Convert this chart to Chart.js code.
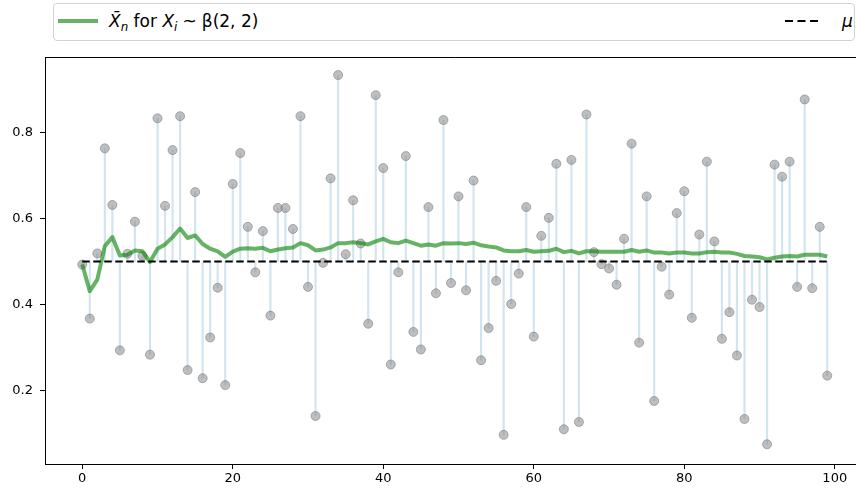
<!DOCTYPE html>
<html>
<head>
<meta charset="utf-8">
<script src="https://cdn.jsdelivr.net/npm/chart.js@4/dist/chart.umd.min.js"></script>
<style>
html, body { margin:0; padding:0; overflow:hidden; background:#fff; width:856px; height:493px; }
#wrap { position:relative; width:870px; height:493px; }
#c { position:absolute; left:0; top:0; }
#legend { position:absolute; left:53px; top:3px; width:802px; height:38px; box-sizing:border-box;
  border:1px solid #d2d2d2; border-radius:4px; background:#fff;
  font-family:"DejaVu Sans", sans-serif; font-size:17px; color:#000; }
.lt { position:absolute; top:7px; line-height:20px; white-space:nowrap; }
.sub { font-size:70%; position:relative; top:0.3em; }
.sp { display:inline-block; width:0.3em; }
</style>
</head>
<body>
<div id="wrap">
<canvas id="c" width="870" height="493" style="width:870px;height:493px"></canvas>
<div id="legend">
  <div style="position:absolute;left:4px;top:15px;width:40px;height:4px;background:rgba(0,128,0,0.6)"></div>
  <div class="lt" style="left:55px"><i>X&#772;</i><i class="sub">n</i> for <i>X</i><i class="sub">i</i><span class="sp"></span>~<span class="sp"></span>β(2, 2)</div>
  <svg style="position:absolute;left:731px;top:15px" width="34" height="4"><line x1="0" y1="2" x2="33" y2="2" stroke="#000" stroke-width="2" stroke-dasharray="8 4.5"/></svg>
  <div class="lt" style="left:788px"><i>μ</i></div>
</div>
</div>
<script>
const xs = [0,1,2,3,4,5,6,7,8,9,10,11,12,13,14,15,16,17,18,19,20,21,22,23,24,25,26,27,28,29,
  30,31,32,33,34,35,36,37,38,39,40,41,42,43,44,45,46,47,48,49,50,51,52,53,54,55,56,57,58,59,
  60,61,62,63,64,65,66,67,68,69,70,71,72,73,74,75,76,77,78,79,80,81,82,83,84,85,86,87,88,89,
  90,91,92,93,94,95,96,97,98,99];

const samples = [
  0.493,0.367,0.519,0.764,0.632,0.293,0.518,0.593,0.513,0.283,
  0.834,0.630,0.760,0.839,0.247,0.662,0.228,0.323,0.439,0.212,
  0.681,0.753,0.581,0.475,0.571,0.374,0.625,0.625,0.576,0.839,
  0.441,0.140,0.497,0.694,0.935,0.517,0.643,0.542,0.355,0.888,
  0.718,0.260,0.475,0.746,0.336,0.295,0.627,0.426,0.830,0.450,
  0.652,0.433,0.689,0.270,0.345,0.455,0.096,0.401,0.472,0.627,
  0.325,0.560,0.602,0.728,0.109,0.737,0.126,0.843,0.522,0.494,
  0.484,0.446,0.553,0.775,0.311,0.652,0.175,0.488,0.423,0.613,
  0.664,0.369,0.563,0.733,0.547,0.320,0.382,0.281,0.133,0.411,
  0.394,0.074,0.726,0.698,0.733,0.441,0.878,0.438,0.581,0.234
];

const runningMean = [
  0.493,0.431,0.458,0.536,0.557,0.514,0.516,0.526,0.524,0.499,
  0.530,0.540,0.557,0.577,0.555,0.561,0.541,0.530,0.524,0.511,
  0.523,0.530,0.531,0.530,0.532,0.524,0.528,0.531,0.533,0.543,
  0.538,0.526,0.528,0.533,0.543,0.543,0.545,0.543,0.540,0.547,
  0.553,0.545,0.543,0.549,0.543,0.537,0.540,0.537,0.543,0.542,
  0.543,0.541,0.544,0.538,0.535,0.533,0.526,0.524,0.524,0.527,
  0.523,0.524,0.525,0.530,0.522,0.525,0.519,0.524,0.524,0.523,
  0.523,0.523,0.523,0.527,0.523,0.526,0.521,0.521,0.519,0.521,
  0.521,0.519,0.519,0.522,0.523,0.521,0.521,0.518,0.513,0.512,
  0.510,0.505,0.509,0.512,0.513,0.512,0.516,0.516,0.516,0.512
];

const MU = 0.5;
const xTicks = [0, 20, 40, 60, 80, 100];
const yTicks = [0.2, 0.4, 0.6, 0.8];

const frame = {
  id: 'frame',
  afterDraw(chart) {
    const { ctx, chartArea: a } = chart;
    ctx.save();
    ctx.strokeStyle = '#000';
    ctx.lineWidth = 1;
    ctx.beginPath();
    ctx.moveTo(a.left, Math.round(a.top) + 0.5);
    ctx.lineTo(a.right, Math.round(a.top) + 0.5);
    ctx.moveTo(Math.round(a.right) - 0.5, a.top);
    ctx.lineTo(Math.round(a.right) - 0.5, a.bottom);
    ctx.stroke();
    ctx.restore();
  }
};

const tickFont = { family: 'DejaVu Sans', size: 13 };
const zeroPad = s => { s.paddingLeft = 0; s.paddingRight = 0; s.paddingTop = 0; s.paddingBottom = 0; };

new Chart(document.getElementById('c'), {
  type: 'bar',
  data: {
    datasets: [
      {
        type: 'line', label: 'mu',
        data: [{ x: xs[0], y: MU }, { x: xs[xs.length - 1], y: MU }],
        borderColor: '#000', borderWidth: 2, borderDash: [7.5, 3.5],
        pointRadius: 0, fill: false, order: 0
      },
      {
        type: 'line', label: 'mean',
        data: xs.map((x, i) => ({ x: x, y: runningMean[i] })),
        borderColor: 'rgba(0,128,0,0.6)', borderWidth: 4, borderJoinStyle: 'round',
        pointRadius: 0, tension: 0, fill: false, order: 1
      },
      {
        type: 'scatter', label: 'samples',
        data: xs.map((x, i) => ({ x: x, y: samples[i] })),
        pointRadius: 4.5, backgroundColor: 'rgba(128,128,128,0.5)',
        borderColor: 'rgba(128,128,128,0.6)', borderWidth: 1, order: 2
      },
      {
        type: 'bar', label: 'stems',
        data: xs.map((x, i) => ({ x: x, y: [MU, samples[i]] })),
        backgroundColor: 'rgba(31,119,180,0.2)', borderWidth: 0,
        barThickness: 1.5, grouped: false, order: 3
      }
    ]
  },
  options: {
    responsive: false,
    animation: false,
    devicePixelRatio: 1,
    layout: { padding: { top: 57, right: 2, left: 0, bottom: 0 } },
    plugins: { legend: { display: false }, tooltip: { enabled: false } },
    scales: {
      x: {
        type: 'linear', min: -4.95, max: 103.95, offset: false,
        afterBuildTicks: s => { s.ticks = xTicks.map(v => ({ value: v })); },
        afterFit: s => { s.height = 29; zeroPad(s); },
        grid: { display: true, drawOnChartArea: false, drawTicks: true, tickLength: 5, color: '#000', offset: false },
        border: { display: true, color: '#000', width: 1 },
        ticks: { font: tickFont, color: '#000', padding: 2, maxRotation: 0, autoSkip: false, callback: v => String(v) }
      },
      y: {
        type: 'linear', min: 0.028, max: 0.977,
        afterBuildTicks: s => { s.ticks = yTicks.map(v => ({ value: v })); },
        afterFit: s => { s.width = 45; zeroPad(s); },
        grid: { display: true, drawOnChartArea: false, drawTicks: true, tickLength: 5, color: '#000' },
        border: { display: true, color: '#000', width: 1 },
        ticks: { font: tickFont, color: '#000', padding: 7, callback: v => v.toFixed(1) }
      }
    }
  },
  plugins: [frame]
});
</script>
</body>
</html>
